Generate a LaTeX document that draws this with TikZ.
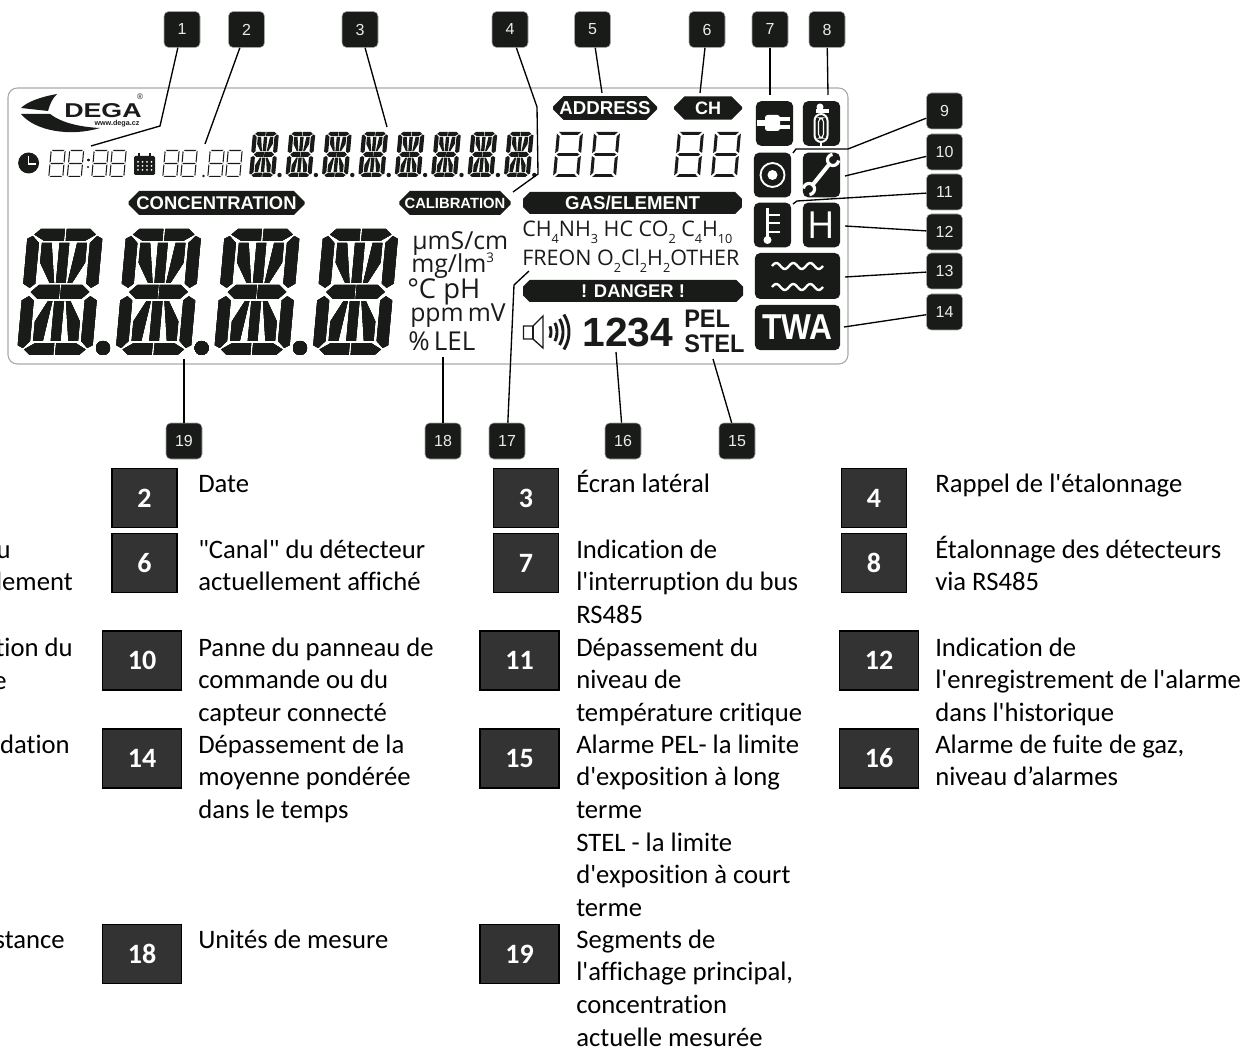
\documentclass[tikz,border=0pt]{standalone}
\usepackage{graphicx}
\usepackage{fontspec}
\setmainfont{Carlito}[Ligatures={TeXOff,CommonOff}]
\newfontfamily\panelfont{Liberation Sans}
\newfontfamily\unitfont{Open Sans}
\usetikzlibrary{shapes.misc}
\definecolor{lcd}{HTML}{191B19}
\definecolor{boxgray}{HTML}{333333}
\definecolor{framegray}{HTML}{A9A9A9}
\newcommand{\low}[1]{\raisebox{-0.55ex}{\fontsize{9.5}{9.5}\selectfont #1}}
% one 16-segment digit, centre at #1,#2
\newcommand{\alnumdigit}[4]{%
  \begin{scope}[shift={(#1,#2)},xslant=0.09,xscale=#3,yscale=#4]
    \foreach \turn in {0,180} {
      \begin{scope}[rotate=\turn]
        \fill[lcd] (-4.1,-8.2) -- (-3.3,-9) -- (-0.1,-9) -- (-0.1,-7.3) -- (-2.7,-7.3) -- cycle;
        \fill[lcd] (0.15,-9) -- (3.3,-9) -- (4.1,-8.2) -- (2.7,-7.3) -- (0.15,-7.3) -- cycle;
        \fill[lcd] (-5,-7.6) -- (-4.3,-8) -- (-3.4,-7) -- (-3.4,-1.2) -- (-4.1,-0.6) -- (-5,-1.2) -- cycle;
        \fill[lcd] (5,-7.6) -- (4.3,-8) -- (3.4,-7) -- (3.4,-1.2) -- (4.1,-0.6) -- (5,-1.2) -- cycle;
        \fill[lcd] (-3,-7) -- (-1.7,-7) -- (-0.9,-1.3) -- (-1.5,-1.3) -- (-3,-4.2) -- cycle;
        \fill[lcd] (-0.65,-7) -- (0.65,-7) -- (0.65,-1.3) -- (-0.65,-1.3) -- cycle;
        \fill[lcd] (3,-7) -- (1.7,-7) -- (0.9,-1.3) -- (1.5,-1.3) -- (3,-4.2) -- cycle;
        \fill[lcd] (-3.9,0) -- (-2.9,-1) -- (-0.08,-1) -- (-0.08,1) -- (-2.9,1) -- cycle;
      \end{scope}
    }
  \end{scope}}
% one 7-segment digit, #5 is the segment width
\newcommand{\sevendigit}[5]{%
  \begin{scope}[shift={(#1,#2)},xslant=0.09,xscale=#3,yscale=#4]
    \foreach \turn in {0,180} {
      \begin{scope}[rotate=\turn]
        \fill[lcd] (-4.2,-9) -- (4.2,-9) -- ({4.2-#5},{-9+#5}) -- ({-4.2+#5},{-9+#5}) -- cycle;
        \fill[lcd] (5,-8.4) -- (5,-0.6) -- ({5-#5},{-0.5-#5*0.8}) -- ({5-#5},{-8.4+#5}) -- cycle;
        \fill[lcd] (-5,-8.4) -- (-5,-0.6) -- ({-5+#5},{-0.5-#5*0.8}) -- ({-5+#5},{-8.4+#5}) -- cycle;
        \fill[lcd] (-4.4,0) -- ({-4.4+#5*0.7},{-#5*0.5}) -- (0.02,{-#5*0.5}) -- (0.02,{#5*0.5}) -- ({-4.4+#5*0.7},{#5*0.5}) -- cycle;
      \end{scope}
    }
  \end{scope}}
\tikzset{
  numtag/.style={fill=lcd,draw=black!35,line width=0.4pt,rounded corners=3.5pt,minimum size=27pt,inner sep=0pt,
    text=white!92!black,font=\panelfont\fontsize{12}{12}\selectfont},
  leader/.style={black,line width=1pt},
  pill/.style={chamfered rectangle,chamfered rectangle xsep=4pt,chamfered rectangle ysep=4pt,fill=lcd,inner sep=0pt,
    text=white,font=\panelfont\bfseries},
  iconbox/.style={fill=lcd,rounded corners=4pt,inner sep=0pt},
  icontext/.style={text=white,inner sep=0pt},
  unitline/.style={anchor=base west,inner sep=0pt,text=lcd,font=\unitfont\fontsize{18.6}{18.6}\selectfont},
  gasline/.style={anchor=base west,inner sep=0pt,text=lcd,font=\unitfont\fontsize{16.1}{16.1}\selectfont},
  numbox/.style={fill=boxgray,draw=black,line width=1.1pt,inner sep=0pt,text=white,
    font=\fontsize{21}{21}\selectfont\bfseries},
  legend/.style={anchor=north west,inner sep=0pt,align=left,text=black,
    font=\fontsize{20}{24.5}\selectfont},
  cutoff/.style={anchor=base east,inner sep=0pt,text=black,font=\fontsize{20}{24.5}\selectfont}
}
\begin{document}
\begin{tikzpicture}[x=0.75pt,y=-0.75pt]
  \useasboundingbox (0,0) rectangle (1256,1048);
  % panel
  \draw[framegray,line width=0.8pt,rounded corners=7pt] (8,88) rectangle (848,364);
  % logo
  \fill[lcd] (57,94) .. controls (40,97) and (27,102) .. (21,108) -- (48,111) .. controls (50,104) and (52,99) .. (57,94) -- cycle;
  \fill[lcd] (21,114) -- (50,114) .. controls (62,123) and (80,127) .. (100,128) .. controls (70,137) and (35,131) .. (21,114) -- cycle;
  \node[inner sep=0pt,anchor=base west,text=lcd,font=\panelfont\bfseries\fontsize{15}{15}\selectfont] (logotext) at (64,118) {\scalebox{1.34}[1]{DEGA}};
  \node[inner sep=0pt,text=lcd,font=\panelfont\bfseries\fontsize{5.4}{5.4}\selectfont] (logoweb) at (117,124) {www.dega.cz};
  \node[inner sep=0pt,text=lcd,font=\panelfont\fontsize{6}{6}\selectfont] (logoreg) at (140,97) {®};
  % clock and date line
  \fill[lcd] (28.6,163) circle[radius=10.5];
  \draw[white,line width=1.2pt] (28.6,156) -- (28.6,164) -- (35.5,164);
  \foreach \x/\y in {57/163.5,75.5/163.5,100/163.5,118/163.5,171/163.5,189/163.5,216/163.5,234/163.5}
    \sevendigit{\x}{\y}{1.5}{1.5}{0.7}
  \fill[lcd] (88.5,160) circle[radius=1.1];
  \fill[lcd] (88,167) circle[radius=1.1];
  \fill[lcd] (203.5,176) circle[radius=1.3];
  \fill[lcd,rounded corners=1pt] (134,156) rectangle (155,175);
  \draw[lcd,line width=1pt] (139,153) -- (139,157);
  \draw[lcd,line width=1pt] (150,153) -- (150,157);
  \foreach \x in {138,142.5,147,151.5}
    \foreach \y in {162,166,170}
      \fill[white] (\x,\y) circle[radius=1];
  % side screen
  \foreach \k in {0,...,7} {
    \alnumdigit{264+36.4*\k}{154.5}{2.6}{2.5}
    \fill[lcd] (279.5+36.4*\k,175) circle[radius=2.2];
  }
  % captions of the panel
  \node[pill,minimum width=132pt,minimum height=18pt,font=\panelfont\bfseries\fontsize{13.8}{13.8}\selectfont] (concentration) at (216.5,203) {CONCENTRATION};
  \node[pill,minimum width=81pt,minimum height=18pt,font=\panelfont\bfseries\fontsize{11.1}{11.1}\selectfont] (calibration) at (455,203) {CALIBRATION};
  \node[pill,minimum width=78pt,minimum height=16.5pt,font=\panelfont\bfseries\fontsize{14}{14}\selectfont] (address) at (605,108) {ADDRESS};
  \node[pill,minimum width=51pt,minimum height=16.5pt,font=\panelfont\bfseries\fontsize{13.5}{13.5}\selectfont] (channel) at (708,108) {CH};
  \node[pill,chamfered rectangle xsep=2.5pt,chamfered rectangle ysep=2.5pt,minimum width=164pt,minimum height=16.5pt,font=\panelfont\bfseries\fontsize{14}{14}\selectfont] (gaselement) at (632.5,203) {GAS/ELEMENT};
  \node[pill,chamfered rectangle xsep=2.5pt,chamfered rectangle ysep=2.5pt,minimum width=165pt,minimum height=16.5pt,font=\panelfont\bfseries\fontsize{13.8}{13.8}\selectfont] (danger) at (633,291) {! DANGER !};
  % address and channel digits
  \foreach \x in {568,605,689,726}
    \sevendigit{\x}{154.5}{2.6}{2.5}{1.15}
  % main display
  \foreach \x in {60,158.5,257,355.5}
    \alnumdigit{\x}{292}{7.5}{7}
  \foreach \x in {103,201.6,300}
    \fill[lcd] (\x,348) circle[radius=7];
  % units
  \node[unitline] (unit1) at (412,250) {µmS/cm};
  \node[unitline] (unit2) at (411,273) {mg/lm\raisebox{7.5pt}{\fontsize{10}{10}\selectfont 3}};
  \node[unitline,font=\unitfont\fontsize{20.5}{20.5}\selectfont] (unit3) at (407,299) {°C pH};
  \node[unitline] (unit4) at (410,322) {ppm\,mV};
  \node[unitline,font=\unitfont\fontsize{19.5}{19.5}\selectfont] (unit5) at (408,351) {\%\,LEL};
  % gases
  \node[gasline] (gas1) at (522,237) {CH\low{4}NH\low{3} HC CO\low{2} C\low{4}H\low{10}};
  \node[gasline] (gas2) at (522,266) {FREON O\low{2}Cl\low{2}H\low{2}OTHER};
  % alarm line
  \draw[lcd,line width=1pt] (523.5,326) -- (533,326) -- (543,316) -- (543,348) -- (533,339) -- (523.5,339) -- cycle;
  \draw[lcd,line width=1pt] (533,326) -- (533,339);
  \foreach \r/\a in {14/24,20/27,26/30,32/33}
    \draw[lcd,line width=2.2pt,domain=-\a:\a,samples=12,smooth,variable=\x] plot ({537+\r*cos(\x)},{332+\r*sin(\x)});
  \node[anchor=base,inner sep=0pt,text=lcd,font=\panelfont\bfseries\fontsize{30.6}{30.6}\selectfont] (level) at (628,347) {1234};
  \node[anchor=base west,inner sep=0pt,text=lcd,font=\panelfont\bfseries\fontsize{19}{19}\selectfont] (pel) at (684,328) {\scalebox{0.93}[1]{PEL}};
  \node[anchor=base west,inner sep=0pt,text=lcd,font=\panelfont\bfseries\fontsize{19}{19}\selectfont] (stel) at (684,353) {\scalebox{0.93}[1]{STEL}};
  % icon tiles
  \foreach \name/\x/\y/\w/\h in {plug/774.5/123.5/28/33.5,tank/821.5/123.5/28/33.5,target/772.5/175/28/33.5,wrench/821.5/175/28/33.5,thermo/772.5/225/28/33.5,hist/821.5/225/28/33.5,wave/797.5/276/64/34.5,twa/797.5/327.5/64/34}
    \node[iconbox,minimum width=\w pt,minimum height=\h pt] (\name) at (\x,\y) {};
  % plug
  \fill[white] (757,120) rectangle (766,126);
  \fill[white,rounded corners=2pt] (765,115) rectangle (780,131);
  \fill[white] (780,117) rectangle (790,121.5);
  \fill[white] (780,125) rectangle (790,129.5);
  % bottle
  \draw[white,line width=1.5pt,rounded corners=5pt] (814.5,114) rectangle (827.5,142);
  \draw[white,line width=0.8pt,rounded corners=3pt] (818.5,118) rectangle (823.5,138);
  \draw[white,line width=1.5pt] (821,142) -- (821,146);
  \fill[white] (820,107) circle[radius=3.5];
  \fill[white] (816,109) rectangle (829,113);
  % target
  \draw[white,line width=1.4pt] (772.5,175) circle[radius=12];
  \fill[white] (772.5,175) circle[radius=5];
  % spanner
  \draw[white,line width=3pt] (812.5,185) -- (829.5,164);
  \draw[white,line width=2.4pt,domain=5:265,samples=16,smooth,variable=\x] plot ({833+5.5*cos(\x)},{160+5.5*sin(\x)});
  \draw[white,line width=2.4pt,domain=185:445,samples=16,smooth,variable=\x] plot ({809+5.5*cos(\x)},{189+5.5*sin(\x)});
  % thermometer
  \draw[white,line width=2.6pt] (767.5,208) -- (767.5,238);
  \fill[white] (767.5,240) circle[radius=4];
  \foreach \y in {215,223,232}
    \draw[white,line width=2pt] (767.5,\y) -- (780,\y);
  \node[icontext,font=\unitfont\fontsize{28}{28}\selectfont] (histtext) at (hist) {H};
  % waves
  \foreach \y in {266,287}
    \draw[white,line width=1.8pt,domain=0:51,samples=50,smooth,variable=\x] plot ({772+\x},{\y+3*sin(\x*21.18+180)});
  \node[icontext,font=\panelfont\bfseries\fontsize{27}{27}\selectfont] (twatext) at (twa) {\scalebox{0.88}[1]{TWA}};
  % numbered tags
  \foreach \n/\x/\y in {1/182/29.5,2/246.5/29.5,3/360/29.5,4/510/29.5,5/592.5/29.5,6/707/29.5,7/770/29.5,8/827/29.5,9/944.5/111,10/944.5/152,11/944.5/192,12/944.5/232,13/944.5/271,14/944.5/312,15/737/441,16/623/441,17/507/441,18/443/441,19/184/441}
    \node[numtag] (t\n) at (\x,\y) {\n};
  % straight leaders
  \foreach \n/\x/\y in {2/205/144,3/387/127,5/602/93,6/700/93,7/770/95,8/828/95,10/845/176,12/845/226,13/845/277,14/844/327,15/713/359,16/616/352,18/443/357,19/184/359} {
    \coordinate (e\n) at (\x,\y);
    \draw[leader] (t\n) -- (e\n);
  }
  % leaders with a bend
  \coordinate (k1) at (160,126);
  \coordinate (e1) at (91,146);
  \draw[leader] (t1) -- (k1) -- (e1);
  \coordinate (k4a) at (537,107);
  \coordinate (k4b) at (538,174);
  \coordinate (e4) at (513,192);
  \draw[leader] (t4) -- (k4a) -- (k4b) -- (e4);
  \coordinate (k9a) at (848,149);
  \coordinate (k9b) at (796,149);
  \coordinate (e9) at (793,153);
  \draw[leader] (t9) -- (k9a) -- (k9b) -- (e9);
  \coordinate (k11) at (797,201);
  \coordinate (e11) at (793,204);
  \draw[leader] (t11) -- (k11) -- (e11);
  \coordinate (k17) at (514,285);
  \coordinate (e17) at (529,271);
  \draw[leader] (t17) -- (k17) -- (e17);
  % legend, boxes
  \foreach \n/\x/\y/\w in {2/144.5/498/48.5,6/144.5/563/48.5,10/142/660.5/59,14/142/758.5/59,18/142/954/59,3/526/498/48.5,7/526/563/48.5,11/519.5/660.5/59,15/519.5/758.5/59,19/519.5/954/59,4/874/498/48.5,8/874/563/48.5,12/879/660.5/59,16/879/758.5/59}
    \node[numbox,minimum width=\w pt,minimum height=44pt] (b\n) at (\x,\y) {\n};
  % legend, text cut by the left edge
  \node[cutoff] (cut1) at (11,558) {u};
  \node[cutoff] (cut2) at (73,590) {lement};
  \node[cutoff] (cut3) at (73,656) {tion du};
  \node[cutoff] (cut4) at (7,689) {e};
  \node[cutoff] (cut5) at (70,753) {dation};
  \node[cutoff] (cut6) at (65,948) {stance};
  % legend, text
  \node[legend] (l2) at (198,469) {\strut Date};
  \node[legend] (l6) at (198,535) {\strut "Canal" du détecteur\\actuellement affiché};
  \node[legend] (l10) at (198,633) {\strut Panne du panneau de\\commande ou du\\capteur connecté};
  \node[legend] (l14) at (198,730) {\strut Dépassement de la\\moyenne pondérée\\dans le temps};
  \node[legend] (l18) at (198,925) {\strut Unités de mesure};
  \node[legend] (l3) at (576,469) {\strut Écran latéral};
  \node[legend] (l7) at (576,535) {\strut Indication de\\l'interruption du bus\\RS485};
  \node[legend] (l11) at (576,633) {\strut Dépassement du\\niveau de\\température critique};
  \node[legend] (l15) at (576,730) {\strut Alarme PEL- la limite\\d'exposition à long\\terme\\STEL - la limite\\d'exposition à court\\terme};
  \node[legend] (l19) at (576,925) {\strut Segments de\\l'affichage principal,\\concentration\\actuelle mesurée};
  \node[legend] (l4) at (935,469) {\strut Rappel de l'étalonnage};
  \node[legend] (l8) at (935,535) {\strut Étalonnage des détecteurs\\via RS485};
  \node[legend] (l12) at (935,633) {\strut Indication de\\l'enregistrement de l'alarme\\dans l'historique};
  \node[legend] (l16) at (935,730) {\strut Alarme de fuite de gaz,\\niveau d’alarmes};
\end{tikzpicture}
\end{document}
